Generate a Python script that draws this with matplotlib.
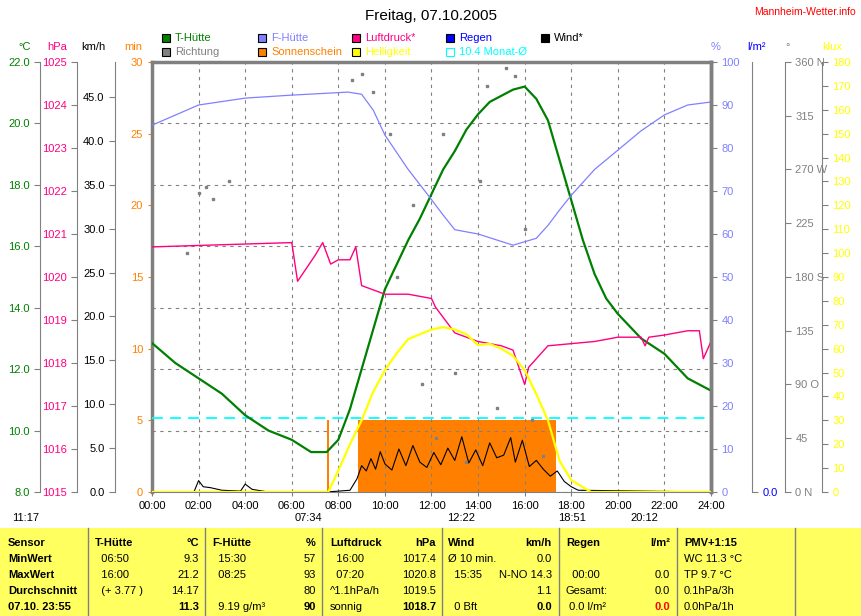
import numpy as np
import matplotlib
matplotlib.use('Agg')
import matplotlib.pyplot as plt
from matplotlib.patches import Rectangle

plt.rcParams['font.family'] = ['Liberation Sans', 'DejaVu Sans']
plt.rcParams['font.size'] = 8

# ---- data (hours of day) ----
t_hours = [0, 1, 2, 3, 4, 5, 6, 6.83, 7.5, 8, 8.5, 9, 9.5, 10, 10.5, 11, 11.5, 12, 12.5, 13, 13.5,
           14, 14.5, 15, 15.5, 16, 16.5, 17, 17.5, 18, 18.5, 19, 19.5, 20, 21, 22, 23, 24]
t_huette = [12.85, 12.2, 11.7, 11.2, 10.5, 10.0, 9.7, 9.3, 9.3, 9.7, 10.7, 12.0, 13.3, 14.6, 15.4,
            16.2, 16.9, 17.7, 18.5, 19.1, 19.8, 20.3, 20.7, 20.9, 21.1, 21.2, 20.8, 20.1, 18.8,
            17.5, 16.2, 15.1, 14.3, 13.8, 13.0, 12.5, 11.7, 11.3]

f_hours = [0, 2, 4, 6, 8.42, 9, 9.5, 10, 11, 12, 12.5, 13, 14, 15.5, 16.5, 17, 17.5, 18, 19, 20,
           21, 22, 23, 24]
f_huette = [85.3, 90, 91.6, 92.3, 93, 92.5, 88.8, 83, 75, 68, 64.4, 61, 60, 57.4, 59, 62, 65.6,
            69, 75, 79.5, 84, 87.7, 90, 90.7]

p_hours = [0, 6, 6.25, 6.5, 7, 7.33, 7.67, 8, 8.5, 8.75, 9, 10, 11, 12, 12.17, 13, 14, 15, 15.5,
           16, 16.17, 17, 19, 20, 21, 21.17, 21.33, 22, 23, 23.5, 23.67, 24]
luftdruck = [1020.7, 1020.8, 1019.9, 1020.1, 1020.5, 1020.8, 1020.3, 1020.4, 1020.4, 1020.7,
             1019.8, 1019.6, 1019.6, 1019.5, 1019.3, 1018.7, 1018.5, 1018.4, 1018.3, 1017.5,
             1017.9, 1018.4, 1018.5, 1018.6, 1018.6, 1018.4, 1018.6, 1018.65, 1018.75, 1018.75,
             1018.1, 1018.5]

h_hours = [0, 7.57, 8, 8.5, 9, 9.5, 10, 10.5, 11, 11.5, 12, 12.5, 13, 13.5, 14, 14.5, 15, 15.5,
           16, 16.5, 17, 17.5, 18, 18.5, 18.85, 24]
helligkeit = [0, 0, 9, 20, 30, 42, 51, 58, 64, 66, 68, 69, 68, 66, 61.5, 62, 60, 57, 51, 41, 30,
              13, 5, 2, 0, 0]

s_hours = [0, 7.5, 7.5, 7.6, 7.6, 8.83, 8.83, 17.33, 17.33, 24]
sonnenschein = [0, 0, 5.0, 5.0, 0, 0, 5.0, 5.0, 0, 0]

w_hours = [0, 1.8, 2.0, 2.2, 2.5, 3.0, 3.8, 4.0, 4.3, 5.0, 7.5, 8.5, 8.8, 9.0, 9.2, 9.4, 9.6, 9.8,
           10.0, 10.3, 10.6, 10.9, 11.2, 11.5, 11.8, 12.1, 12.4, 12.7, 13.0, 13.3, 13.6, 13.9,
           14.2, 14.5, 14.8, 15.1, 15.4, 15.6, 15.9, 16.2, 16.5, 16.8, 17.1, 17.4, 17.7, 18.0,
           18.3, 24]
wind = [0, 0, 1.3, 0.6, 0.5, 0.2, 0.1, 0.9, 0.3, 0, 0, 0.2, 1.5, 3.0, 2.4, 3.8, 2.6, 4.6, 3.2,
        2.5, 4.9, 3.0, 5.3, 3.4, 2.8, 4.5, 3.1, 5.0, 3.6, 6.3, 3.3, 4.8, 3.0, 5.6, 3.9, 4.2,
        6.2, 3.4, 5.9, 2.9, 3.6, 2.6, 1.8, 2.4, 1.2, 0.6, 0.2, 0]

r_hours = [1.5, 2.0, 2.3, 2.6, 3.3, 8.6, 9.0, 9.5, 10.2, 10.5, 11.2, 11.6, 12.2, 12.5, 13.0,
           13.5, 14.1, 14.4, 14.8, 15.2, 15.6, 16.0, 16.3, 16.8]
richtung = [200, 250, 255, 245, 260, 345, 350, 335, 300, 180, 240, 90, 45, 300, 100, 25, 260,
            340, 70, 355, 348, 220, 60, 30]

monat_mittel = 10.4

hour_ticks = np.arange(0, 25, 2)
hour_labels = ['%02d:00' % h for h in hour_ticks]
dir_ticks = np.arange(0, 361, 45)
dir_labels = ['0 N', '45', '90 O', '135', '180 S', '225', '270 W', '315', '360 N']

C_T = '#008000'
C_F = '#8080ff'
C_P = '#ff0080'
C_S = '#ff8000'
C_H = '#ffff00'
C_R = '#0000ff'
C_G = '#808080'

W, H = 862, 616
fig = plt.figure(figsize=(W / 100, H / 100), dpi=100)


def fx(x):
    return x / W


def fy(y):
    return 1 - y / H


L, R, T, B = 152, 711, 62, 492
ax = fig.add_axes([fx(L), fy(B), fx(R - L), (B - T) / H])
ax.set_xlim(0, 24)
ax.set_ylim(0, 30)
ax.fill_between(s_hours, sonnenschein, color=C_S, lw=0, zorder=1)
ax.set_xticks(hour_ticks)
ax.set_xticklabels(hour_labels)
ax.set_yticks(np.arange(0, 31, 5))
ax.tick_params(axis='y', colors=C_S, labelsize=8, length=3)
ax.tick_params(axis='x', labelsize=8, length=3, color=C_G)
for s in ['top', 'left', 'right']:
    ax.spines[s].set_color(C_G)
    ax.spines[s].set_linewidth(2.5)
ax.spines['bottom'].set_color(C_G)
ax.grid(True, axis='x', ls=(0, (3, 4)), color=C_G, lw=0.8)


def twin(lo, hi, side, px_out, color, ticks, labels=None):
    a = ax.twinx()
    a.set_ylim(lo, hi)
    a.patch.set_visible(False)
    for s in a.spines.values():
        s.set_visible(False)
    a.spines[side].set_visible(True)
    a.spines[side].set_color(C_G)
    a.spines[side].set_position(('outward', px_out * 0.72))
    a.yaxis.set_ticks_position(side)
    a.yaxis.set_label_position(side)
    a.set_yticks(ticks)
    if labels is not None:
        a.set_yticklabels(labels)
    a.tick_params(axis='y', colors=color, labelsize=8, length=4)
    for lab in a.get_yticklabels():
        lab.set_color(color)
    a.tick_params(axis='y', color=C_G)
    return a


ax_c = twin(8, 22, 'left', L - 40, C_T, np.arange(8, 23, 2), ['%.1f' % v for v in np.arange(8, 23, 2)])
ax_p = twin(1015, 1025, 'left', L - 77, C_P, np.arange(1015, 1026, 1))
ax_w = twin(0, 49, 'left', L - 115, 'black', np.arange(0, 46, 5), ['%.1f' % v for v in np.arange(0, 46, 5)])
ax_f = twin(0, 100, 'right', 0, C_F, np.arange(0, 101, 10))
ax_r = twin(0, 1, 'right', 752 - R, C_R, [0], ['0.0'])
ax_d = twin(0, 360, 'right', 785 - R, C_G, dir_ticks, dir_labels)
ax_k = twin(0, 180, 'right', 822 - R, C_H, np.arange(0, 181, 10))
ax_f.spines['right'].set_linewidth(2.5)

# horizontal grid on the °C scale
ax_c.grid(True, axis='y', ls=(0, (3, 4)), color=C_G, lw=0.8)
ax_c.axhline(monat_mittel, color='#00ffff', ls=(0, (6, 4)), lw=1.3)
ax_c.plot(t_hours, t_huette, color=C_T, lw=1.6)
ax_f.plot(f_hours, f_huette, color=C_F, lw=0.9)
ax_p.plot(p_hours, luftdruck, color=C_P, lw=1.0)
ax_k.plot(h_hours, helligkeit, color=C_H, lw=1.6)
ax_w.plot(w_hours, wind, color='black', lw=0.8)
ax_d.plot(r_hours, richtung, ls='none', marker='s', ms=1.5, color=C_G)

# axis unit labels
for x, txt, c in [(25, '°C', C_T), (57, 'hPa', C_P), (93, 'km/h', 'black'), (133, 'min', C_S),
                  (716, '%', C_F), (757, 'l/m²', C_R), (788, '°', C_G), (832, 'klux', C_H)]:
    fig.text(fx(x), fy(47), txt, color=c, ha='center', va='center', fontsize=8)

fig.text(0.5, fy(16), 'Freitag, 07.10.2005', ha='center', va='center', fontsize=11)
fig.text(fx(805), fy(12), 'Mannheim-Wetter.info', ha='center', va='center', color='red', fontsize=7.5)

legend = [(162, 38, C_T, 'T-Hütte', C_T), (258, 38, C_F, 'F-Hütte', C_F),
          (352, 38, C_P, 'Luftdruck*', C_P), (446, 38, C_R, 'Regen', C_R),
          (541, 38, 'black', 'Wind*', 'black'),
          (162, 52, C_G, 'Richtung', C_G), (258, 52, C_S, 'Sonnenschein', C_S),
          (352, 52, C_H, 'Helligkeit', C_H)]
for x, y, fc, txt, tc in legend:
    fig.add_artist(Rectangle((fx(x), fy(y + 4)), 8 / W, 8 / H, transform=fig.transFigure,
                             fc=fc, ec='black', lw=0.8))
    fig.text(fx(x + 13), fy(y), txt, color=tc, va='center', fontsize=8)
fig.add_artist(Rectangle((fx(446), fy(56)), 8 / W, 8 / H, transform=fig.transFigure,
                         fc='none', ec='#00ffff', lw=0.8))
fig.text(fx(459), fy(52), '10.4 Monat-Ø', color='#00ffff', va='center', fontsize=8)

# sun / moon times
for x, txt in [(12, '11:17'), (295, '07:34'), (447, '12:22'), (558, '18:51'), (630, '20:12')]:
    fig.text(fx(x), fy(518), txt, va='center', fontsize=8)

# info table
fig.add_artist(Rectangle((0, 0), 1, fy(528), transform=fig.transFigure, fc='#ffff60', lw=0))
for x in [88, 205, 322, 442, 559, 677, 795]:
    fig.add_artist(plt.Line2D([fx(x), fx(x)], [0, fy(528)], color=C_G, lw=1))
rows_y = [543, 559, 575, 591, 607]
cols = [
    (8, 'left', ['Sensor', 'MinWert', 'MaxWert', 'Durchschnitt', '07.10. 23:55'], [1, 1, 1, 1, 1]),
    (95, 'left', ['T-Hütte', '  06:50', '  16:00', '  (+ 3.77 )', ''], [1, 0, 0, 0, 0]),
    (199, 'right', ['°C', '9.3', '21.2', '14.17', '11.3'], [1, 0, 0, 0, 1]),
    (212, 'left', ['F-Hütte', '  15:30', '  08:25', '', '  9.19 g/m³'], [1, 0, 0, 0, 0]),
    (316, 'right', ['%', '57', '93', '80', '90'], [1, 0, 0, 0, 1]),
    (330, 'left', ['Luftdruck', '  16:00', '  07:20', '^1.1hPa/h', 'sonnig'], [1, 0, 0, 0, 0]),
    (436, 'right', ['hPa', '1017.4', '1020.8', '1019.5', '1018.7'], [1, 0, 0, 0, 1]),
    (448, 'left', ['Wind', 'Ø 10 min.', '  15:35', '', '  0 Bft'], [1, 0, 0, 0, 0]),
    (552, 'right', ['km/h', '0.0', 'N-NO 14.3', '1.1', '0.0'], [1, 0, 0, 0, 1]),
    (566, 'left', ['Regen', '', '  00:00', 'Gesamt:', ' 0.0 l/m²'], [1, 0, 0, 0, 0]),
    (670, 'right', ['l/m²', '', '0.0', '0.0', '0.0'], [1, 0, 0, 0, 1]),
    (684, 'left', ['PMV+1:15', 'WC 11.3 °C', 'TP 9.7 °C', '0.1hPa/3h', '0.0hPa/1h'], [1, 0, 0, 0, 0]),
]
for x, ha, texts, bolds in cols:
    for y, txt, b in zip(rows_y, texts, bolds):
        c = 'red' if (x == 670 and y == 607) else 'black'
        fig.text(fx(x), fy(y), txt, ha=ha, va='center', fontsize=8,
                 fontweight='bold' if b else 'normal', color=c)

fig.savefig('out.png', dpi=100)
